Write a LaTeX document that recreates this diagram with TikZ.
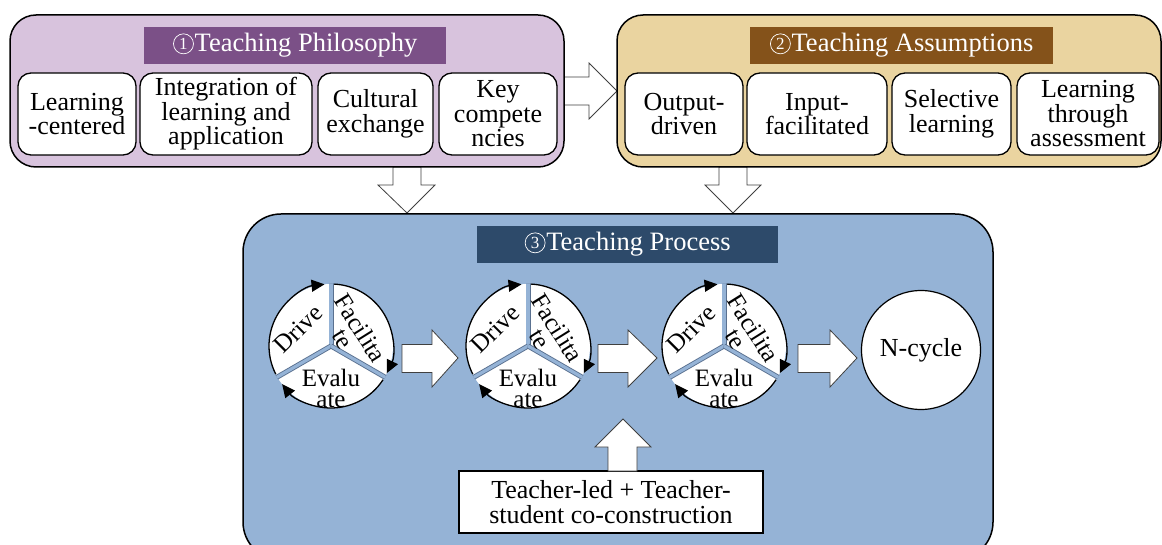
\documentclass[tikz,border=0pt]{standalone}
\usepackage{fontspec}
\setmainfont{Liberation Serif}
\usetikzlibrary{arrows.meta}

\definecolor{philofill}{HTML}{D8C3DD}
\definecolor{philohead}{HTML}{7B5087}
\definecolor{assumfill}{HTML}{EAD4A0}
\definecolor{assumhead}{HTML}{84521A}
\definecolor{procfill}{HTML}{95B3D6}
\definecolor{prochead}{HTML}{2D4A6A}
\definecolor{gapedge}{HTML}{5A7190}

\tikzset{
  panel/.style={draw=black, line width=1.5pt, inner sep=0pt},
  headbar/.style={inner sep=0pt, minimum height=37pt},
  headtext/.style={text=white, inner sep=0pt, font=\fontsize{26.5}{28}\selectfont},
  numring/.style={draw=white, line width=0.7pt},
  numdigit/.style={text=white, inner sep=0pt, font=\fontsize{17}{17}\selectfont},
  item/.style={draw=black, fill=white, line width=1.3pt, rounded corners=13pt,
    inner sep=0pt, align=center, minimum height=82pt,
    font=\fontsize{26}{24.5}\selectfont},
  blockarrow/.style={draw=black!75, fill=white, line width=0.8pt, line join=miter},
  wheeltext/.style={inner sep=0pt, align=center, font=\fontsize{25}{20.5}\selectfont},
  wheelarc/.style={draw=black, line width=1.3pt, -{Triangle[length=13pt,width=12pt]}},
  maintext/.style={font=\fontsize{26}{25}\selectfont},
}

% heading text with a circled step number in front: name, number, text
\newcommand\headline[3]{%
  \node[headtext] (#1tx) at (#1) {\hspace*{22pt}#3};
  \draw[numring] ([xshift=11pt, yshift=8pt]#1tx.base west) circle[radius=10pt];
  \node[numdigit] (#1no) at ([xshift=11pt, yshift=7.6pt]#1tx.base west) {#2};}

% one Drive / Facilitate / Evaluate cycle wheel: name, centre x, centre y
\newcommand\cyclewheel[3]{%
  \begin{scope}[shift={(#2,#3)}, x=1pt, y=1pt]
    \fill[white] (0,0) circle[radius=62];
    \begin{scope}
      \clip (0,0) circle[radius=62.6];
      \foreach \a in {90,210,330}{
        \draw[gapedge, line width=5pt] (0,0) -- (\a:66);
        \draw[procfill, line width=3.2pt] (0,0) -- (\a:66);
      }
    \end{scope}
    \draw[wheelarc] (207:62) arc[start angle=207, end angle=96, radius=62];
    \draw[wheelarc] (87:62) arc[start angle=87, end angle=-26, radius=62];
    \draw[wheelarc] (-33:62) arc[start angle=-33, end angle=-142, radius=62];
    \node[wheeltext, rotate=45] (#1-drive) at (-33,17) {Drive};
    \node[wheeltext, rotate=-58] (#1-fac) at (21,12.5) {Facilita\\te};
    \node[wheeltext] (#1-eval) at (0,-42.5) {Evalu\\ate};
  \end{scope}}

\begin{document}
\begin{tikzpicture}[x=1pt, y=-1pt]
  \useasboundingbox (0,0) rectangle (1162,545);
  \fill[white] (0,0) rectangle (1162,545);
  \clip (0,0) rectangle (1162,545);

  % block arrows between the panels
  \draw[blockarrow] (564,77) -- (589,77) -- (589,63) -- (617,91) -- (589,119)
    -- (589,105) -- (564,105) -- cycle;
  \draw[blockarrow] (393,167) -- (421,167) -- (421,185) -- (435,185) -- (407,213)
    -- (378,185) -- (393,185) -- cycle;
  \draw[blockarrow] (719,167) -- (747,167) -- (747,185) -- (761,185) -- (733,213)
    -- (705,185) -- (719,185) -- cycle;

  % panel 1: teaching philosophy
  \node[panel, fill=philofill, rounded corners=26pt, minimum width=554pt,
    minimum height=152pt] (philo) at (287,91) {};
  \node[headbar, fill=philohead, minimum width=302pt] (philohd) at (295,45.5) {};
  \headline{philohd}{1}{Teaching Philosophy}
  \node[item, minimum width=118pt] (p1) at (77,114) {Learning\\-centered};
  \node[item, minimum width=172pt] (p2) at (226,114) {Integration of\\learning and\\application};
  \node[item, minimum width=115pt] (p3) at (375.5,114) {Cultural\\exchange};
  \node[item, minimum width=118pt] (p4) at (498,114) {Key\\compete\\ncies};

  % panel 2: teaching assumptions
  \node[panel, fill=assumfill, rounded corners=26pt, minimum width=544pt,
    minimum height=152pt] (assum) at (889,91) {};
  \node[headbar, fill=assumhead, minimum width=303pt] (assumhd) at (901.5,45.5) {};
  \headline{assumhd}{2}{Teaching Assumptions}
  \node[item, minimum width=118pt] (a1) at (684,114) {Output-\\driven};
  \node[item, minimum width=140pt] (a2) at (817,114) {Input-\\facilitated};
  \node[item, minimum width=119pt] (a3) at (951.5,114) {Selective\\learning};
  \node[item, minimum width=142pt] (a4) at (1088,114) {Learning\\through\\assessment};

  % panel 3: teaching process
  \node[panel, fill=procfill, rounded corners=38pt, minimum width=750pt,
    minimum height=346pt] (proc) at (618,387) {};
  \node[headbar, fill=prochead, minimum width=301pt] (prochd) at (627.5,244.5) {};
  \headline{prochd}{3}{Teaching Process}

  \cyclewheel{w1}{331}{346}
  \cyclewheel{w2}{528}{346}
  \cyclewheel{w3}{724}{346}

  \node[draw=black, fill=white, circle, line width=1.2pt, minimum size=119pt,
    inner sep=0pt, maintext] (ncyc) at (921,350) {N-cycle};

  % arrows along the process
  \draw[blockarrow] (402,344.5) -- (432,344.5) -- (432,330) -- (458,358) -- (432,387)
    -- (432,372.5) -- (402,372.5) -- cycle;
  \draw[blockarrow] (598,344.5) -- (628,344.5) -- (628,330) -- (657,358) -- (628,387)
    -- (628,372.5) -- (598,372.5) -- cycle;
  \draw[blockarrow] (798,344.5) -- (830,344.5) -- (830,330) -- (857,358) -- (830,387)
    -- (830,372.5) -- (798,372.5) -- cycle;

  % guiding mode
  \node[draw=black, fill=white, line width=1.2pt, minimum width=304pt,
    minimum height=62pt, inner sep=0pt, align=center, maintext] (lead) at (611,502)
    {Teacher-led + Teacher-\\student co-construction};
  \draw[blockarrow] (608,471) -- (608,447) -- (595,447) -- (623,419) -- (651,447)
    -- (637,447) -- (637,471) -- cycle;
\end{tikzpicture}
\end{document}
